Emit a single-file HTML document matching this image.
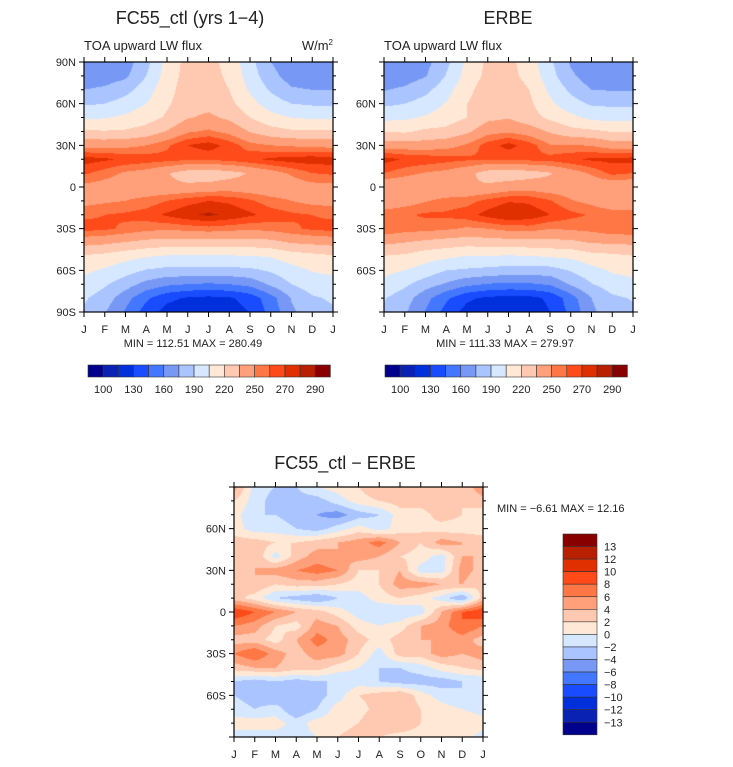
<!DOCTYPE html>
<html><head><meta charset="utf-8">
<style>
html,body{margin:0;padding:0;background:#fff;}
body{width:733px;height:767px;position:relative;overflow:hidden;font-family:"Liberation Sans",sans-serif;color:#222;}
canvas{position:absolute;}
svg{position:absolute;left:0;top:0;}
</style></head>
<body>
<canvas id="c1" width="249" height="250" style="left:84px;top:62px"></canvas>
<canvas id="c2" width="249" height="250" style="left:384px;top:62px"></canvas>
<canvas id="c3" width="249" height="250" style="left:234px;top:487px"></canvas>
<svg id="s" width="733" height="767"></svg>
<script>
const months=["J","F","M","A","M","J","J","A","S","O","N","D","J"];
const latLabels1=["90N","60N","30N","0","30S","60S","90S"];
const latLabels2=["","60N","30N","0","30S","60S",""];
const levelsAbs=[100,115,130,145,160,175,190,205,220,235,250,260,270,280,290];
const levelsAbsLabels=["100","130","160","190","220","250","270","290"];
const levelsDiff=[-13,-12,-10,-8,-6,-4,-2,0,2,4,6,8,10,12,13];
const levelsDiffLabels=["13","12","10","8","6","4","2","0","−2","−4","−6","−8","−10","−12","−13"];
const palette=["#00008c","#0a22b4","#0030dc","#1a4cff","#4477ff","#7799f5","#aac4ff","#d6e8ff","#ffe8d6","#ffc8b0","#ffa07a","#ff7744","#ff4a1a","#e03000","#b82000","#880000"];
const modelField=[
[163,163,168,185,210,225,225,215,195,175,165,162,163],
[165,167,172,190,212,226,226,217,198,180,168,165,165],
[175,178,185,198,215,227,228,220,203,188,177,175,175],
[188,190,196,205,218,228,230,224,210,198,190,188,188],
[203,204,208,214,222,234,238,232,220,210,205,203,203],
[222,221,222,226,236,248,252,246,234,226,222,222,222],
[245,245,246,250,258,270,275,266,254,250,248,246,245],
[275,272,268,266,264,262,262,264,268,272,275,276,275],
[262,255,248,244,236,228,226,230,236,244,252,260,262],
[246,244,242,240,238,238,240,242,240,240,242,245,246],
[245,248,250,254,260,266,270,268,262,254,250,246,245],
[258,260,262,265,272,278,282,278,272,266,262,260,258],
[264,262,258,254,252,254,256,254,252,254,258,262,264],
[240,238,234,230,228,228,228,228,228,230,236,238,240],
[218,215,210,206,203,203,203,203,204,206,212,215,218],
[208,203,196,189,186,186,186,186,187,192,200,206,208],
[200,192,182,170,163,160,158,160,165,178,190,198,200],
[192,183,166,148,134,128,126,128,136,154,176,188,192],
[188,176,158,138,124,119,117,121,131,150,172,184,188]];
const erbeField=[
[162,163,170,186,208,223,224,213,193,173,164,161,162],
[164,167,174,191,211,224,225,215,196,178,166,164,164],
[174,178,186,199,216,228,229,220,202,187,175,174,174],
[187,190,196,206,220,227,229,223,208,196,188,187,187],
[201,202,207,213,220,231,234,226,217,209,201,200,201],
[219,218,223,224,232,245,248,243,233,225,223,219,219],
[243,242,242,245,252,265,274,265,251,251,249,242,243],
[274,269,267,264,262,261,261,263,264,268,272,273,274],
[260,254,249,246,239,229,227,229,234,243,252,263,260],
[237,237,237,237,236,237,241,243,241,241,239,238,237],
[240,244,249,254,256,263,269,268,261,251,246,239,240],
[256,258,262,262,266,274,280,277,270,263,259,256,256],
[259,255,254,252,248,250,254,255,250,252,254,259,259],
[238,235,231,228,226,227,228,229,230,231,236,237,238],
[219,217,211,208,204,204,203,204,206,208,214,216,219],
[209,205,199,190,188,186,184,183,184,191,200,207,209],
[201,193,182,173,164,159,157,158,162,177,189,198,201],
[191,182,165,148,133,127,125,125,133,153,175,187,191],
[188,177,159,139,124,117,115,120,130,149,172,183,188]];
const diffField=[
[5,-1,-2,-2,0,1,2,4,4,4,2,2,6],
[2,-1,-3,-3,-3,-1,1,2,3,3,4,2,3],
[1,-2,-2,-3,-4,-5,-3,-2,1,1,3,2,1],
[1,-1,-1,-2,-3,-1,1,-1,1,2,1,1,1],
[3,3,2,2,3,4,5,7,4,2,5,4,3],
[4,4,-1,3,5,4,5,4,2,1,-1,4,4],
[3,4,5,6,7,6,2,2,4,-1,-1,5,3],
[2,4,2,3,3,2,1,2,5,5,4,4,2],
[3,1,-2,-3,-4,-2,-1,1,2,1,-1,-4,3],
[10,8,6,4,3,1,-1,-2,-2,-1,4,8,10],
[6,5,2,1,5,4,1,0,1,4,5,8,6],
[3,3,1,4,7,5,3,1,3,4,4,5,3],
[6,8,5,3,5,5,2,-1,3,3,5,4,5],
[3,4,4,3,3,1,0,-2,-2,-1,1,2,3],
[-2,-3,-2,-3,-2,-2,-1,-2,-3,-3,-3,-2,-2],
[-2,-3,-4,-2,-3,-1,2,3,4,1,-1,-2,-2],
[-1,-2,-1,-4,-2,1,1,3,4,2,1,0,-1],
[1,1,1,-1,1,1,2,4,4,2,1,2,1],
[-1,-1,-1,-1,0,2,3,2,1,1,0,1,-1]];

function hex(c){return [parseInt(c.substr(1,2),16),parseInt(c.substr(3,2),16),parseInt(c.substr(5,2),16)];}
const pal=palette.map(hex);
function colorIdx(v,lev){let i=0;while(i<lev.length&&v>=lev[i])i++;return i;}
function drawField(id,field,lev){
  const cv=document.getElementById(id),ctx=cv.getContext('2d');
  const W=cv.width,H=cv.height,img=ctx.createImageData(W,H);
  const R=field.length,C=field[0].length;
  for(let y=0;y<H;y++){
    const fy=(y+0.5)/H*(R-1),r0=Math.min(Math.floor(fy),R-2),ty=fy-r0;
    for(let x=0;x<W;x++){
      const fx=(x+0.5)/W*(C-1),c0=Math.min(Math.floor(fx),C-2),tx=fx-c0;
      const v=(field[r0][c0]*(1-tx)+field[r0][c0+1]*tx)*(1-ty)+(field[r0+1][c0]*(1-tx)+field[r0+1][c0+1]*tx)*ty;
      const p=pal[colorIdx(v,lev)],k=(y*W+x)*4;
      img.data[k]=p[0];img.data[k+1]=p[1];img.data[k+2]=p[2];img.data[k+3]=255;
    }
  }
  ctx.putImageData(img,0,0);
}
drawField('c1',modelField,levelsAbs);
drawField('c2',erbeField,levelsAbs);
drawField('c3',diffField,levelsDiff);

const NS="http://www.w3.org/2000/svg",svg=document.getElementById('s');
function el(t,a,txt){const e=document.createElementNS(NS,t);for(const k in a)e.setAttribute(k,a[k]);if(txt!==undefined)e.textContent=txt;svg.appendChild(e);return e;}
function text(x,y,s,size,anchor,name){const e=el('text',{x:x,y:y,'font-size':size,'text-anchor':anchor||'start',fill:'#222','font-family':'Liberation Sans, sans-serif'},s);

return e;}
function frame(x0,y0,w,h,latLabs,pfx){
  const r=el('rect',{x:x0,y:y0,width:w,height:h,fill:'none',stroke:'#000','stroke-width':1.2});
  
  
  let d='';
  for(let i=0;i<months.length;i++){const x=x0+w*i/(months.length-1);d+=`M${x},${y0}v-5M${x},${y0+h}v5`;
    text(x,y0+h+21,months[i],11,'middle',pfx+'-month-label');}
  for(let j=0;j<=18;j++){const y=y0+h*j/18,L=(j%3==0)?5:3;d+=`M${x0},${y}h-${L}M${x0+w},${y}h${L}`;}
  const p=el('path',{d:d,stroke:'#000','stroke-width':1,fill:'none'});
  
  
  latLabs.forEach((s,i)=>{if(s)text(x0-8,y0+h*i/6+4,s,11,'end',pfx+'-lat-label');});
}
frame(84,62,249,250,latLabels1,'model');
frame(384,62,249,250,latLabels2,'erbe');
frame(234,487,249,250,latLabels2,'diff');

text(190,24,"FC55_ctl (yrs 1−4)",18,'middle','model-title');
text(84,50,"TOA upward LW flux",13,'start','model-subtitle');
const u=text(333,50,"W/m",13,'end','model-units');
const sup=document.createElementNS(NS,'tspan');sup.setAttribute('font-size',8);sup.setAttribute('dy',-5);sup.textContent="2";u.appendChild(sup);
text(193,347,"MIN = 112.51 MAX = 280.49",11,'middle','model-minmax');
text(508,24,"ERBE",18,'middle','erbe-title');
text(384,50,"TOA upward LW flux",13,'start','erbe-subtitle');
text(505,347,"MIN = 111.33 MAX = 279.97",11,'middle','erbe-minmax');
text(345,469,"FC55_ctl − ERBE",18,'middle','diff-title');
text(497,512,"MIN =  −6.61 MAX =  12.16",11,'start','diff-minmax');

function hbar(x0,pfx){
  const bw=15.15;
  for(let i=0;i<palette.length;i++){
    const r=el('rect',{x:x0+i*bw,y:365,width:bw,height:12,fill:palette[i],stroke:'#333','stroke-width':0.6});
    
    
  }
  levelsAbsLabels.forEach((s,i)=>text(x0+bw*(1+2*i),393,s,11,'middle',pfx+'-colorbar-label'));
}
hbar(88,'model');hbar(385,'erbe');
const vb=12.55;
for(let i=0;i<palette.length;i++){
  const r=el('rect',{x:563,y:534+i*vb,width:34,height:vb,fill:palette[palette.length-1-i],stroke:'#333','stroke-width':0.6});
  
  
}
levelsDiffLabels.forEach((s,i)=>text(604,534+vb*(i+1)+4,s,11,'start','diff-colorbar-label'));
</script>
</body></html>
